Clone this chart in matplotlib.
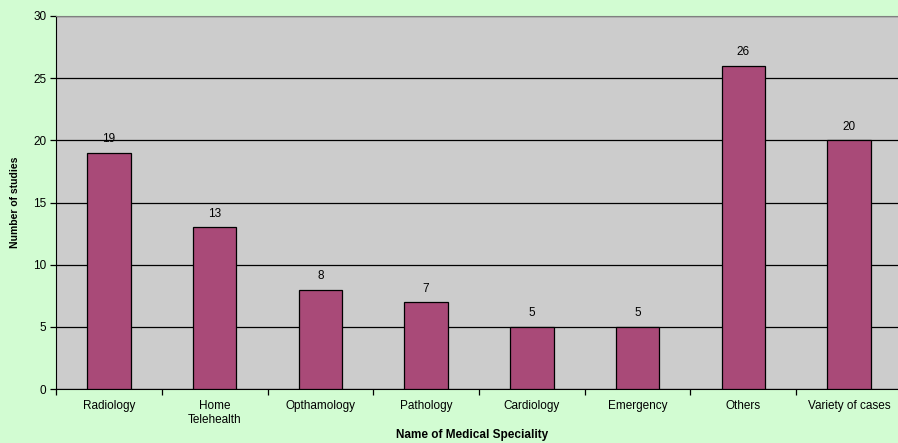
import numpy as np
import matplotlib
matplotlib.use("Agg")
import matplotlib.pyplot as plt

plt.rcParams['font.family'] = ['Liberation Sans', 'DejaVu Sans']

# studi per specialita medica
specialities = ["Radiology", "Home\nTelehealth", "Opthamology", "Pathology",
                "Cardiology", "Emergency", "Others", "Variety of cases"]
n_studies = [19, 13, 8, 7, 5, 5, 26, 20]

fig = plt.figure(figsize=(8.98, 4.43), dpi=100, facecolor="#D2FCD2")
# l'area del grafico esce leggermente dal bordo destro
ax = fig.add_axes([56/898, 1 - 389/443, 846/898, 373/443])
ax.set_facecolor("#CCCCCC")

x = np.arange(len(specialities))
bars = ax.bar(x, n_studies, width=0.41, color="#A94A78", edgecolor="black",
              linewidth=0.9, zorder=3)

for xi, v in zip(x, n_studies):
    ax.text(xi, v + 0.6, str(v), ha="center", va="bottom", fontsize=8.5, zorder=4)

ax.set_xlim(-0.5, len(specialities) - 0.5)
ax.set_ylim(0, 30)
ax.set_yticks(range(0, 31, 5))
ax.yaxis.grid(True, color="black", linewidth=0.9, zorder=1)

# tick sui bordi delle categorie, etichette al centro
ax.set_xticks(np.arange(len(specialities) + 1) - 0.5)
ax.set_xticklabels([])
ax.set_xticks(x, minor=True)
ax.set_xticklabels(specialities, minor=True, fontsize=8.5)
ax.tick_params(axis="x", which="minor", length=0, pad=8)
ax.tick_params(axis="x", which="major", length=4, direction="out", width=0.9)
ax.tick_params(axis="y", length=4, direction="out", width=0.9, labelsize=8.5, pad=3)

for s in ["top", "right"]:
    ax.spines[s].set_color("#808080")
ax.spines["left"].set_color("black")
ax.spines["bottom"].set_color("black")

ax.set_ylabel("Number of studies", fontsize=7.5, fontweight="bold")
ax.yaxis.set_label_coords(-36/846, 0.5)
ax.set_xlabel("Name of Medical Speciality", fontsize=8.5, fontweight="bold")
ax.xaxis.set_label_coords((472 - 56)/846, -40/373)

fig.savefig("out.png", dpi=100, facecolor=fig.get_facecolor())
